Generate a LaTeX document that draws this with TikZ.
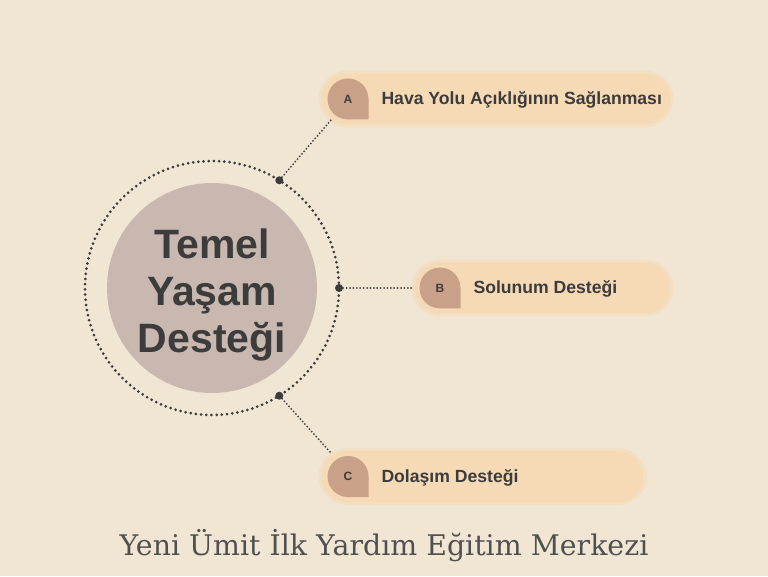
\documentclass[tikz,border=0pt]{standalone}
\usepackage{fontspec}
\setmainfont{DejaVu Serif}
\newfontfamily\labelfont{Liberation Sans}
\usepackage{tikz}
\usetikzlibrary{shapes,arrows,positioning,calc}

\definecolor{bgcream}{HTML}{F1E6D4}
\definecolor{pillfill}{HTML}{F5DAB5}
\definecolor{pillrim}{HTML}{F3E0C4}
\definecolor{badgefill}{HTML}{C9A088}
\definecolor{hubfill}{HTML}{C9B8AF}
\definecolor{inkgray}{HTML}{3C3C3C}

\tikzset{
	pill/.style={draw=pillrim, line width=3pt, fill=pillfill, rounded corners=27pt, minimum height=54pt, inner sep=0pt},
	pilltext/.style={font=\labelfont\bfseries\fontsize{17.6}{20}\selectfont, text=inkgray, anchor=west},
	badgetext/.style={font=\labelfont\bfseries\fontsize{12}{14}\selectfont, text=inkgray},
	joint/.style={circle, fill=inkgray, inner sep=0pt, minimum size=8pt},
	link/.style={line width=2pt, line cap=round, dash pattern=on 0pt off 3.4pt, draw=inkgray}
}

% badge: round with a square lower right corner
\newcommand{\badge}[4]{%
	\fill[badgefill] (#2+20.5,#3) -- (#2+20.5,#3-20.5) -- (#2,#3-20.5) arc[start angle=270, end angle=0, radius=20.5] -- cycle;
	\node[badgetext] (#1) at (#2,#3) {#4};
}

\begin{document}
\begin{tikzpicture}[x=1pt, y=1pt]
				\fill[bgcream] (0,0) rectangle (768,576);
				\useasboundingbox (0,0) rectangle (768,576);

				% hub
				\node[circle, fill=hubfill, minimum size=210pt, inner sep=0pt] (hub) at (212,288) {};
				\draw [line width=3pt	,line cap=round	,dash pattern=on 0pt off 5.2pt	, draw=inkgray] (hub.center) circle (127);
				\node[font=\labelfont\bfseries\fontsize{41}{47}\selectfont, text=inkgray, align=center] (title) at (212,281) {Temel\\Yaşam\\Desteği};

				% joints on the ring
				\node[joint] (ja) at ($(hub.center)+(58:127)$) {};
				\node[joint] (jb) at ($(hub.center)+(0:127)$) {};
				\node[joint] (jc) at ($(hub.center)+(-58:127)$) {};

				% pills
				\node[pill, minimum width=352pt] (pilla) at (496,477) {};
				\node[pill, minimum width=259pt] (pillb) at (542.5,288) {};
				\node[pill, minimum width=325pt] (pillc) at (482.5,99.5) {};

				\badge{ba}{348}{477}{A}
				\badge{bb}{440}{288}{B}
				\badge{bc}{348}{99.5}{C}

				\node[pilltext] (texta) at (378,476) {Hava Yolu Açıklığının Sağlanması};
				\node[pilltext] (textb) at (470,287) {Solunum Desteği};
				\node[pilltext] (textc) at (378,98.5) {Dolaşım Desteği};

				% connectors
				\coordinate (enda) at (331,456);
				\coordinate (endc) at (331,123);
				\draw [link] (ja) -- (enda);
				\draw [link] (jb) -- (pillb.west);
				\draw [link] (jc) -- (endc);

				\node[font=\fontsize{28.4}{32}\selectfont, text=inkgray!90] (footer) at (384,30) {Yeni Ümit İlk Yardım Eğitim Merkezi};
				\end{tikzpicture}
\end{document}
